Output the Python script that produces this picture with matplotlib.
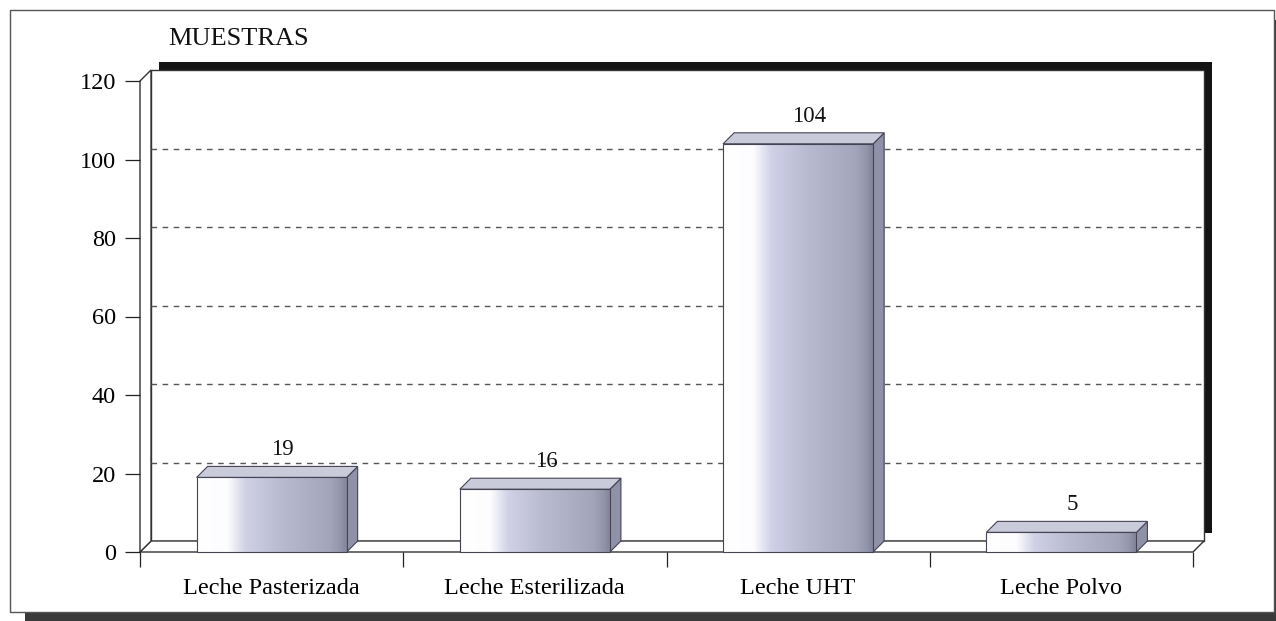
import numpy as np
import matplotlib
matplotlib.use("Agg")
import matplotlib.pyplot as plt
from matplotlib.patches import Rectangle, Polygon
from matplotlib.colors import LinearSegmentedColormap

categories = ["Leche Pasterizada", "Leche Esterilizada", "Leche UHT", "Leche Polvo"]
values = [19, 16, 104, 5]
yticks = [0, 20, 40, 60, 80, 100, 120]
title = "MUESTRAS"

plt.rcParams['font.family'] = ['Liberation Serif', 'DejaVu Serif']

W, H = 1276, 621
fig = plt.figure(figsize=(W / 100, H / 100), dpi=100)

# axes placement in pixels (from top-left)
L, R, B, T = 140, 1193, 552, 81
ax = fig.add_axes([L / W, 1 - B / H, (R - L) / W, (B - T) / H])
ncat = len(categories)
ymax = yticks[-1]

# depth offsets (pixels -> data units)
ddx = 11 * ncat / (R - L)
ddy = 11 * ymax / (B - T)
sdx = 8 * ncat / (R - L)
sdy = 8 * ymax / (B - T)

edge = '#333333'
# back wall shadow
ax.add_patch(Rectangle((ddx + sdx, ddy + sdy), ncat, ymax, facecolor='#141414',
                       edgecolor='none', clip_on=False, zorder=0.5))
# back wall
ax.add_patch(Rectangle((ddx, ddy), ncat, ymax, facecolor='white',
                       edgecolor=edge, lw=1, clip_on=False, zorder=1))
# floor
ax.add_patch(Polygon([(0, 0), (ncat, 0), (ncat + ddx, ddy), (ddx, ddy)], closed=True,
                     facecolor='white', edgecolor=edge, lw=1, clip_on=False, zorder=1.2))
# left side panel
ax.add_patch(Polygon([(0, 0), (0, ymax), (ddx, ymax + ddy), (ddx, ddy)], closed=True,
                     facecolor='white', edgecolor=edge, lw=1, clip_on=False, zorder=1.2))

# gridlines on back wall
for v in yticks[1:-1]:
    ax.plot([ddx, ncat + ddx], [v + ddy, v + ddy], color='#555555', lw=1,
            linestyle=(0, (4, 4)), clip_on=False, zorder=1.5)

# bars
cmap = LinearSegmentedColormap.from_list('bar', [
    (0.0, '#ffffff'), (0.20, '#fdfdff'), (0.32, '#d0d1e6'), (0.55, '#b9bbd0'),
    (0.88, '#a3a5ba'), (0.95, '#9496ab'), (1.0, '#7f8195')])
grad = np.linspace(0, 1, 256).reshape(1, -1)
bw = 0.57
for i, v in enumerate(values):
    x0 = i + 0.5 - bw / 2
    x1 = x0 + bw
    # side face
    ax.add_patch(Polygon([(x1, 0), (x1 + ddx, ddy), (x1 + ddx, v + ddy), (x1, v)], closed=True,
                         facecolor='#8f91a8', edgecolor='#444455', lw=0.8, clip_on=False, zorder=3))
    # top face
    ax.add_patch(Polygon([(x0, v), (x1, v), (x1 + ddx, v + ddy), (x0 + ddx, v + ddy)], closed=True,
                         facecolor='#c9cbdb', edgecolor='#444455', lw=0.8, clip_on=False, zorder=3))
    # front face gradient
    rect = Rectangle((x0, 0), bw, v, facecolor='none', edgecolor='#444455', lw=0.8,
                     clip_on=False, zorder=4)
    ax.add_patch(rect)
    im = ax.imshow(grad, cmap=cmap, extent=[x0, x1, 0, v], aspect='auto',
                   interpolation='bilinear', zorder=3.5)
    im.set_clip_path(rect)
    ax.annotate(str(v), (x0 + bw / 2 + ddx, v + ddy), xytext=(0, 11),
                textcoords='offset pixels', ha='center', va='baseline',
                fontsize=16.5, color='#111111', zorder=6, annotation_clip=False)

ax.set_xlim(0, ncat)
ax.set_ylim(0, ymax)
for s in ax.spines.values():
    s.set_visible(False)
ax.patch.set_visible(False)

ax.set_yticks(yticks)
ax.set_yticklabels([str(t) for t in yticks])
ax.tick_params(axis='y', length=10.8, width=0.9, pad=6.5, labelsize=17.5, color='#222222')

ax.set_xticks(np.arange(ncat + 1))
ax.set_xticklabels([''] * (ncat + 1))
ax.tick_params(axis='x', which='major', length=10.8, width=0.9, color='#222222')
ax.set_xticks(np.arange(ncat) + 0.5, minor=True)
ax.set_xticklabels(categories, minor=True)
ax.tick_params(axis='x', which='minor', length=0, pad=18.5, labelsize=17.5)

# outer frame & shadow
fig.patches.append(Rectangle((25 / W, 0), (W - 25) / W, (621 - 613) / H,
                             transform=fig.transFigure, facecolor='#3a3a3a',
                             edgecolor='none', zorder=0))
fig.patches.append(Rectangle((1274 / W, 0), 2 / W, (621 - 20) / H,
                             transform=fig.transFigure, facecolor='#3a3a3a',
                             edgecolor='none', zorder=0))
fig.patches.append(Rectangle((10 / W, 1 - 612 / H), (1274 - 10) / W, (612 - 10) / H,
                             transform=fig.transFigure, fill=False,
                             edgecolor='#555555', lw=1, zorder=1))

fig.text(168 / W, 1 - 39 / H, title, ha='left', va='center', fontsize=19, color='#111111')

fig.savefig('out.png', dpi=100, facecolor='white')
